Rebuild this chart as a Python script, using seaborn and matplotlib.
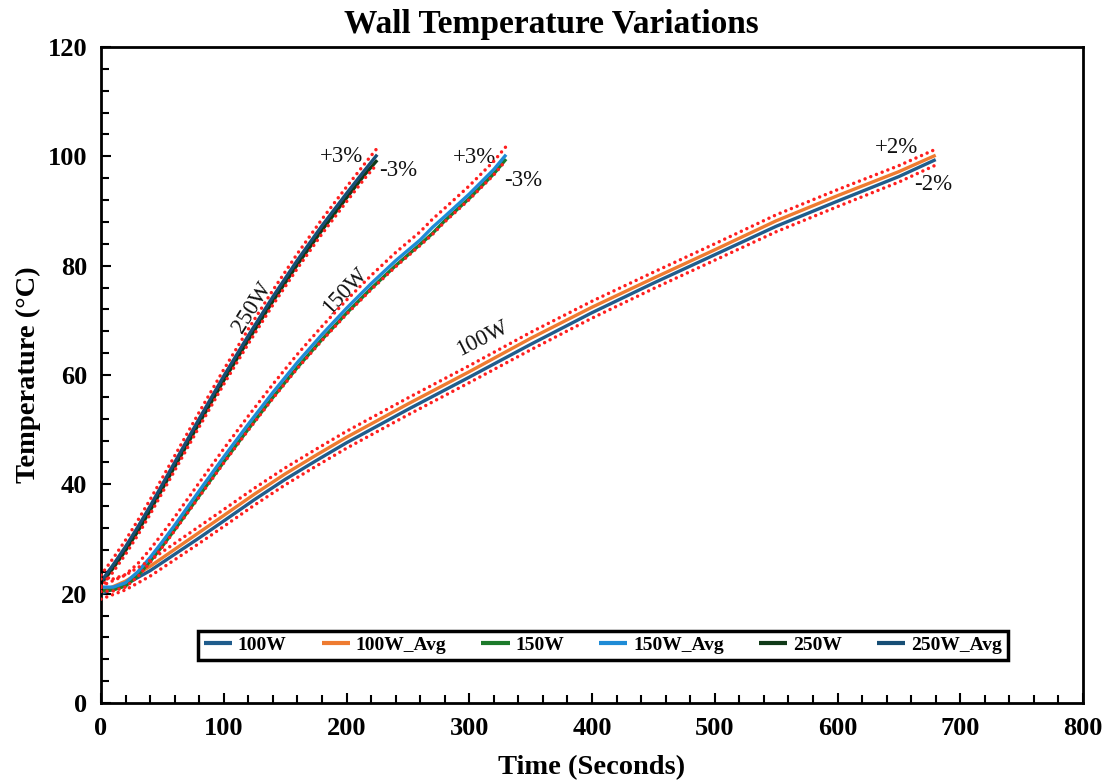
import numpy as np
import pandas as pd
import matplotlib
matplotlib.use("Agg")
import matplotlib.pyplot as plt
from matplotlib.ticker import MultipleLocator
import seaborn as sns

# ---------------- data ----------------
time_100 = [0, 20, 40, 60, 80, 100, 125, 150, 175, 200, 250, 300, 350, 400, 450, 500, 550, 600, 650, 680]
temp_100 = [20.0, 21.7, 24.2, 27.2, 30.2, 33.3, 37.2, 40.9, 44.3, 47.6, 53.7, 59.6, 65.6, 71.4, 76.8, 82.0, 87.2, 91.8, 96.3, 99.4]
temp_100_avg = [20.3, 22.3, 25.0, 28.1, 31.2, 34.3, 38.2, 41.9, 45.3, 48.6, 54.7, 60.6, 66.7, 72.4, 77.7, 82.9, 88.2, 92.8, 97.2, 100.2]

time_150 = [0, 10, 20, 30, 40, 50, 60, 80, 100, 120, 140, 160, 180, 200, 220, 240, 260, 270, 280, 300, 320, 330]
temp_150 = [20.6, 20.7, 21.4, 23.3, 25.9, 28.7, 31.7, 37.9, 44.1, 50.1, 55.9, 61.4, 66.5, 71.3, 75.8, 80.0, 83.9, 85.9, 88.2, 92.3, 96.8, 99.5]
temp_150_avg = [21.2, 21.2, 22.0, 24.0, 26.6, 29.5, 32.5, 38.8, 45.0, 51.0, 56.8, 62.3, 67.4, 72.2, 76.7, 80.9, 84.7, 87.0, 89.0, 93.1, 97.6, 100.3]

time_250 = [0, 10, 20, 30, 40, 50, 60, 80, 100, 120, 140, 160, 180, 200, 215, 225]
temp_250 = [21.8, 24.7, 27.9, 31.4, 35.2, 39.2, 43.2, 51.2, 59.0, 66.4, 73.5, 80.2, 86.5, 92.4, 96.7, 99.3]
temp_250_avg = [22.2, 25.3, 28.6, 32.2, 36.0, 40.0, 44.0, 52.0, 59.8, 67.2, 74.3, 81.0, 87.3, 93.2, 97.5, 100.3]

# error-band offsets (°C)
band_up = {"100W": 1.1, "150W": 1.5, "250W": 1.2}
band_low = {"100W": 1.0, "150W": 0.2, "250W": 0.7}
band_text = {"100W": ("+2%", "-2%"), "150W": ("+3%", "-3%"), "250W": ("+3%", "-3%")}

series_names = ["100W", "100W_Avg", "150W", "150W_Avg", "250W", "250W_Avg"]
colors = ["#1F5C8C", "#EE7B30", "#1C7A2A", "#1E8BD6", "#103A18", "#174E75"]

# ---------------- figure ----------------
sns.set_theme(style="white")
plt.rcParams["font.family"] = ["Liberation Serif", "DejaVu Serif"]
plt.rcParams["text.color"] = "black"
plt.rcParams["axes.labelcolor"] = "black"
plt.rcParams["xtick.color"] = "black"
plt.rcParams["ytick.color"] = "black"

fig = plt.figure(figsize=(11.02, 7.82), dpi=100)
ax = fig.add_axes([101 / 1102, 1 - 703 / 782, (1083 - 101) / 1102, (703 - 47) / 782])

data = {
    "100W": (time_100, temp_100), "100W_Avg": (time_100, temp_100_avg),
    "150W": (time_150, temp_150), "150W_Avg": (time_150, temp_150_avg),
    "250W": (time_250, temp_250), "250W_Avg": (time_250, temp_250_avg),
}

for name, col in zip(series_names, colors):
    t, T = data[name]
    df = pd.DataFrame({"t": t, "T": T})
    sns.lineplot(data=df, x="t", y="T", ax=ax, color=col, lw=2.4, label=name,
                 solid_capstyle="butt")

# dotted +/- bands
for p in ["100W", "150W", "250W"]:
    t, T_avg = data[p + "_Avg"]
    _, T_m = data[p]
    up = np.array(T_avg) + band_up[p]
    lo = np.array(T_m) - band_low[p]
    for arr in (up, lo):
        ax.plot(t, arr, color="#FF1E1E", lw=2.5, linestyle=(0, (0.01, 1.75)),
                dash_capstyle="round", zorder=5)

# annotations
ann_kw = dict(fontsize=16.5, color="#111111", family="Liberation Serif")
ax.text(123, 72.4, "250W", rotation=58, ha="center", va="center", **ann_kw)
ax.text(199, 75.3, "150W", rotation=47, ha="center", va="center", **ann_kw)
ax.text(311, 66.6, "100W", rotation=27, ha="center", va="center", **ann_kw)
ax.text(196, 100.0, band_text["250W"][0], ha="center", va="center", **ann_kw)
ax.text(242, 97.4, band_text["250W"][1], ha="center", va="center", **ann_kw)
ax.text(304, 99.7, band_text["150W"][0], ha="center", va="center", **ann_kw)
ax.text(344, 95.5, band_text["150W"][1], ha="center", va="center", **ann_kw)
ax.text(648, 101.7, band_text["100W"][0], ha="center", va="center", **ann_kw)
ax.text(678, 94.8, band_text["100W"][1], ha="center", va="center", **ann_kw)

# axes
ax.set_xlim(0, 800)
ax.set_ylim(0, 120)
ax.xaxis.set_major_locator(MultipleLocator(100))
ax.xaxis.set_minor_locator(MultipleLocator(20))
ax.yaxis.set_major_locator(MultipleLocator(20))
ax.yaxis.set_minor_locator(MultipleLocator(4))
ax.tick_params(which="both", direction="in", color="black", width=1.5,
               bottom=True, left=True, top=False, right=False)
ax.tick_params(which="major", length=7, labelsize=19, pad=10)
ax.tick_params(which="minor", length=6)
for lab in ax.get_xticklabels() + ax.get_yticklabels():
    lab.set_fontweight("bold")
for s in ax.spines.values():
    s.set_color("black")
    s.set_linewidth(2.0)

ax.set_xlabel("Time (Seconds)", fontsize=20.5, fontweight="bold", labelpad=11)
ax.set_ylabel("Temperature (°C)", fontsize=20.5, fontweight="bold", labelpad=5)
fig.suptitle("Wall Temperature Variations", x=0.5, y=0.969, va="center",
             fontsize=24, fontweight="bold")

leg = ax.legend(loc="center", bbox_to_anchor=(0.511, 0.0877), ncol=6,
                frameon=True, fancybox=False, edgecolor="black", framealpha=1,
                prop={"family": "Liberation Serif", "weight": "bold", "size": 14},
                handlelength=1.45, handletextpad=0.3, columnspacing=1.8,
                borderpad=0.3, borderaxespad=0)
leg.get_frame().set_linewidth(2.5)
leg.get_frame().set_edgecolor("black")
for h in leg.get_lines():
    h.set_linewidth(3.0)

fig.savefig("out.png", dpi=100, facecolor="white")
